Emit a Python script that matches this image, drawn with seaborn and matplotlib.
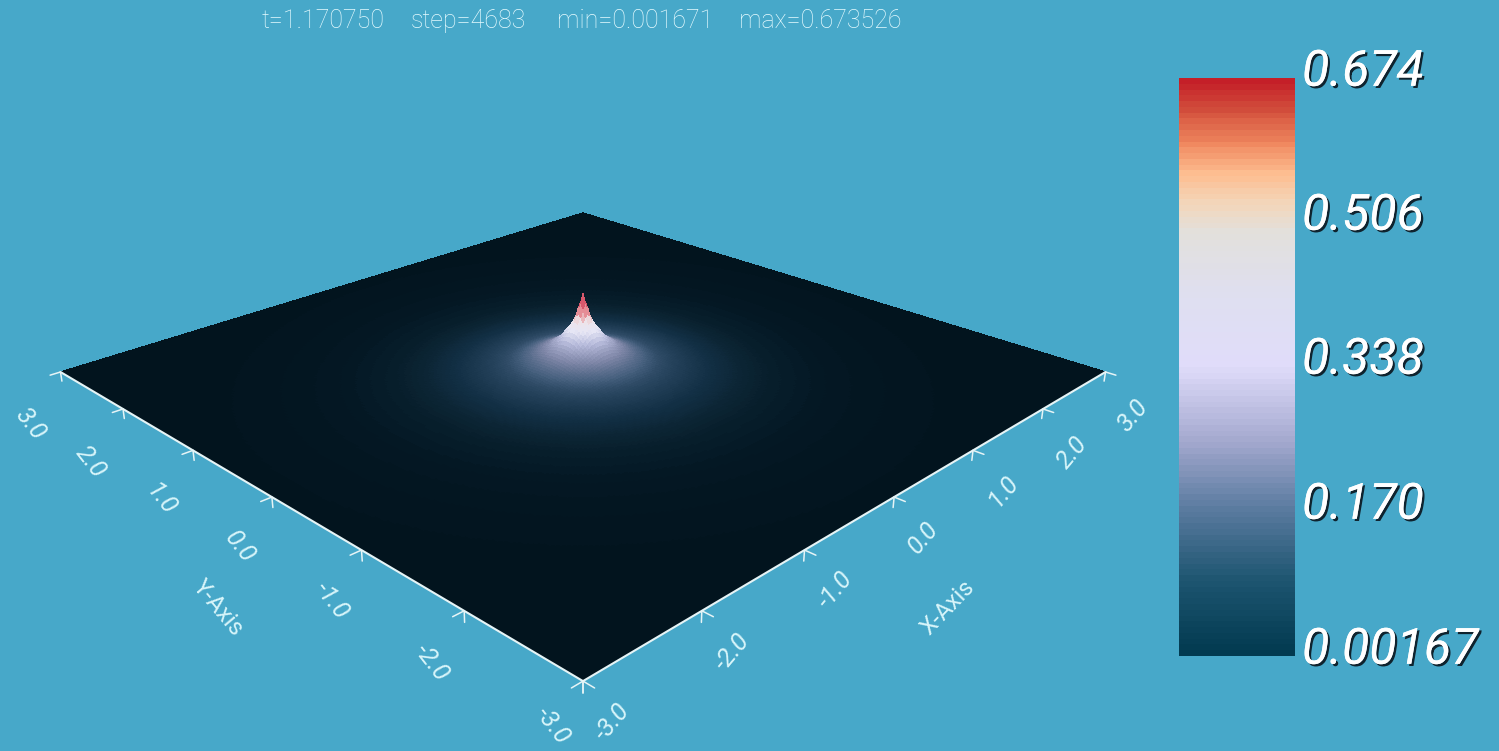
import numpy as np
import pandas as pd
import seaborn as sns
import matplotlib
matplotlib.use("Agg")
import matplotlib.pyplot as plt
import matplotlib.patheffects as pe
from matplotlib.colors import Normalize
from mpl_toolkits.mplot3d import proj3d

# ---------- data ----------
radius = [0, .02, .04, .065, .1, .14, .2, .3, .4, .5, .6, .8, 1.0, 1.25, 1.5, 2.0, 2.5, 3.0, 4.3]
height = [.6735, .61, .54, .46, .40, .35, .28, .21, .165, .13, .105, .078, .055, .035, .022, .011, .006, .003, .00167]
v_min, v_max = 0.001671, 0.673526
tick_values = [-3.0, -2.0, -1.0, 0.0, 1.0, 2.0, 3.0]
tick_labels = ["-3.0", "-2.0", "-1.0", "0.0", "1.0", "2.0", "3.0"]
cbar_labels = ["0.674", "0.506", "0.338", "0.170", "0.00167"]
title_parts = ["t=1.170750", "step=4683", "min=0.001671", "max=0.673526"]

# ---------- styling ----------
W, H = 1499, 751
BG = "#47a8c9"
TXT = "#d8f5fa"
sns.set_theme(style="white")
plt.rcParams["font.family"] = ["Roboto", "DejaVu Sans"]

cbar_stops = [(0.0, "#023a50"), (0.085, "#1d5570"), (0.17, "#5b7ba0"), (0.25, "#a4a9cf"),
              (0.338, "#e0dcfa"), (0.42, "#dfdff0"), (0.495, "#e2e0dc"), (0.53, "#f3d6ba"),
              (0.565, "#fdbd90"), (0.60, "#f0885f"), (0.64, "#d24f3c"), (0.6735, "#c41f28")]
surf_stops = [(0.0, "#02141e"), (0.01, "#041824"), (0.025, "#0a2230"), (0.05, "#122f44"),
              (0.09, "#27445e"), (0.13, "#46607e"), (0.20, "#7d85a6"), (0.30, "#b8bcdc"),
              (0.38, "#e6e6f5"), (0.46, "#eee4e8"), (0.52, "#e89aa0"), (0.60, "#d85a6e"),
              (0.6735, "#c8404f")]


def make_cmap(stops):
    top = stops[-1][0]
    pos = np.array([s[0] for s in stops]) / top
    grid = np.linspace(0, 1, 256)
    rgb = np.array([matplotlib.colors.to_rgb(s[1]) for s in stops])
    cols = np.column_stack([np.interp(grid, pos, rgb[:, i]) for i in range(3)])
    return sns.blend_palette([tuple(c) for c in cols], n_colors=256, as_cmap=True)


cbar_cmap = make_cmap(cbar_stops)
surf_cmap = make_cmap(surf_stops)

fig = plt.figure(figsize=(W / 100, H / 100), dpi=100, facecolor=BG)

# ---------- 3-D surface ----------
S0 = 1000.0
ax = fig.add_axes([(583 - S0 / 2) / W, (H - 372 - S0 / 2) / H, S0 / W, S0 / H],
                  projection="3d", computed_zorder=False)
ax.set_proj_type("persp", focal_length=0.2687)
ax.view_init(elev=23.7, azim=-135)
ax.set_xlim(-3, 3, view_margin=0)
ax.set_ylim(-3, 3, view_margin=0)
ax.set_zlim(-v_max, v_max, view_margin=0)
ax.set_box_aspect((1, 1, 0.228))
ax.set_axis_off()
ax.patch.set_alpha(0)


def to_px(xs, ys, zs):
    a, b, _ = proj3d.proj_transform(np.array(xs, float), np.array(ys, float), np.array(zs, float), ax.get_proj())
    return ax.transData.transform(np.column_stack([a, b]))


# fit the base square to the reference corners: scale first, then shift
ax.apply_aspect()
p = to_px([-3, 3], [3, -3], [0, 0])
S = S0 * (1105 - 60) / (p[1, 0] - p[0, 0])
ax.set_position([(583 - S / 2) / W, (H - 372 - S / 2) / H, S / W, S / H])
ax.apply_aspect()
p = to_px([-3, 3], [3, -3], [0, 0])
dx = 583 - p[:, 0].mean()
dy = (H - 372) - p[:, 1].mean()
ax.set_position([(583 - S / 2 + dx) / W, (H - 372 - S / 2 + dy) / H, S / W, S / H])
ax.apply_aspect()

g = np.arange(-120, 121) / 40.0
X, Y = np.meshgrid(g, g)
Z = np.interp(np.hypot(X, Y), radius, height)
surf = ax.plot_surface(X, Y, Z, rcount=241, ccount=241, cmap=surf_cmap,
                       norm=Normalize(v_min, v_max), shade=False, linewidth=0,
                       antialiased=False, zorder=1)
surf.set_clip_on(False)

# axes lines and ticks
LINE = "#e6f4f6"
ax.plot([-3, -3, 3], [3, -3, -3], [0, 0, 0], color=LINE, lw=1.5, zorder=3, clip_on=False)
for t in tick_values:
    ax.plot([-3, -3.09], [t, t], [0, 0], color=LINE, lw=1.1, zorder=3, clip_on=False)
    ax.plot([-3, -3], [t, t], [0, -0.08], color=LINE, lw=1.1, zorder=3, clip_on=False)
    ax.plot([t, t], [-3, -3.09], [0, 0], color=LINE, lw=1.1, zorder=3, clip_on=False)
    ax.plot([t, t], [-3, -3], [0, -0.08], color=LINE, lw=1.1, zorder=3, clip_on=False)


def ptext(x, y, s, **kw):
    kw.setdefault("ha", "center")
    kw.setdefault("va", "center")
    fig.text(x / W, 1 - y / H, s, **kw)


# tick labels
y_label_px = [(553, 726), (432, 663), (332, 601), (240, 547), (161, 500), (91, 462), (30, 424)]
x_label_px = [(612, 722), (732, 652), (835, 590), (923, 538), (1003, 491), (1072, 453), (1133, 416)]
for lab, (px, py) in zip(tick_labels, y_label_px):
    ptext(px, py, lab, color=TXT, fontsize=18, style="italic", rotation=-52, rotation_mode="anchor")
for lab, (px, py) in zip(tick_labels, x_label_px):
    ptext(px, py, lab, color=TXT, fontsize=18, style="italic", rotation=50, rotation_mode="anchor")
ptext(218, 608, "Y-Axis", color=TXT, fontsize=17, rotation=-50, rotation_mode="anchor")
ptext(948, 608, "X-Axis", color=TXT, fontsize=17, rotation=46, rotation_mode="anchor")

# top annotation
for part, px in zip(title_parts, [262, 411, 557, 739]):
    ptext(px, 21, part, color="#e6fbff", fontsize=18, fontweight="light", ha="left")

# ---------- colour bar ----------
cax = fig.add_axes([1179 / W, 1 - 656 / H, (1295 - 1179) / W, (656 - 78) / H])
levels = np.linspace(v_max, v_min, 100)
sns.heatmap(pd.DataFrame(levels.reshape(-1, 1)), ax=cax, cmap=cbar_cmap, vmin=v_min, vmax=v_max,
            cbar=False, xticklabels=False, yticklabels=False)
cax.set_xlabel("")
cax.set_ylabel("")

shadow = [pe.withSimplePatchShadow(offset=(1.6, -1.6), shadow_rgbFace="#0c1c26", alpha=0.95), pe.Normal()]
for lab, py in zip(cbar_labels, [72, 216, 360, 505, 650]):
    ptext(1302, py, lab, color="white", fontsize=36, style="italic", fontweight="normal", ha="left",
          path_effects=shadow)

fig.savefig("out.png", dpi=100, facecolor=BG)
